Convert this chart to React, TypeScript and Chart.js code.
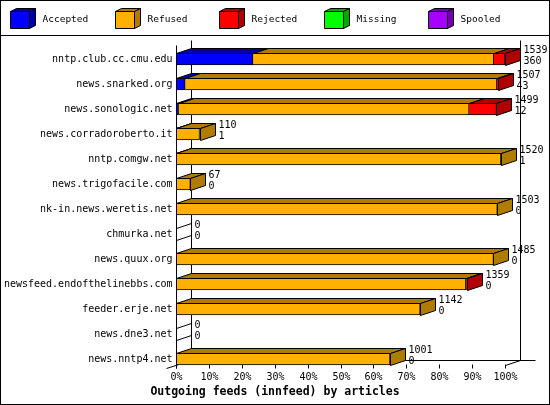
import React, { useEffect, useRef } from "react";
import { Chart, Plugin } from "chart.js/auto";

// feeds, top to bottom
const hosts = [
  "nntp.club.cc.cmu.edu",
  "news.snarked.org",
  "news.sonologic.net",
  "news.corradoroberto.it",
  "nntp.comgw.net",
  "news.trigofacile.com",
  "nk-in.news.weretis.net",
  "chmurka.net",
  "news.quux.org",
  "newsfeed.endofthelinebbs.com",
  "feeder.erje.net",
  "news.dne3.net",
  "news.nntp4.net",
];
const offered = [1539, 1507, 1499, 110, 1520, 67, 1503, 0, 1485, 1359, 1142, 0, 1001];
const accepted = [360, 43, 12, 1, 1, 0, 0, 0, 0, 0, 0, 0, 0];
const refused = [1126, 1458, 1359, 109, 1519, 67, 1503, 0, 1485, 1356, 1142, 0, 1001];
const rejected = [53, 6, 128, 0, 0, 0, 0, 0, 0, 3, 0, 0, 0];
const missing = [0, 0, 0, 0, 0, 0, 0, 0, 0, 0, 0, 0, 0];
const spooled = [0, 0, 0, 0, 0, 0, 0, 0, 0, 0, 0, 0, 0];
const xTicks = [0, 10, 20, 30, 40, 50, 60, 70, 80, 90, 100];

const series = [
  { label: "Accepted", data: accepted, front: "#0000ff", dark: "#0000a8" },
  { label: "Refused", data: refused, front: "#ffb000", dark: "#b07c00" },
  { label: "Rejected", data: rejected, front: "#ff0000", dark: "#b00000" },
  { label: "Missing", data: missing, front: "#00ff00", dark: "#00a800" },
  { label: "Spooled", data: spooled, front: "#a800ff", dark: "#7400b0" },
];

const TITLE = "Outgoing feeds (innfeed) by articles";
const DX = 15;
const DY = 5;
const MONO = "'DejaVu Sans Mono', monospace";

const maxOffered = Math.max(...offered);
const pct = (v: number) => (v / maxOffered) * 100;
const px = (v: number) => Math.round(v) + 0.5;

function poly(ctx: CanvasRenderingContext2D, pts: number[][], fill: string | null) {
  ctx.beginPath();
  pts.forEach(([x, y], i) => (i ? ctx.lineTo(x, y) : ctx.moveTo(x, y)));
  ctx.closePath();
  if (fill) { ctx.fillStyle = fill; ctx.fill(); }
  ctx.stroke();
}

function line(ctx: CanvasRenderingContext2D, x1: number, y1: number, x2: number, y2: number) {
  ctx.beginPath();
  ctx.moveTo(x1, y1);
  ctx.lineTo(x2, y2);
  ctx.stroke();
}

const frame3d: Plugin<"bar"> = {
  id: "frame3d",
  beforeDatasetsDraw(chart) {
    const { ctx, chartArea: a } = chart;
    const L = px(a.left), R = px(a.right);
    const top = 45.5, bot = 365.5;
    ctx.save();
    ctx.strokeStyle = "#000";
    ctx.lineWidth = 1;
    line(ctx, L + DX, top - DY, L + DX, bot - DY);
    line(ctx, R + DX, top - DY, R + DX, bot - DY);
    line(ctx, L + DX, bot - DY, R + 2 * DX, bot - DY);
    line(ctx, L - 10, bot + 3, L + DX, bot - DY);
    line(ctx, R, bot, R + DX, bot - DY);
    ctx.restore();
  },
  afterDatasetsDraw(chart) {
    const { ctx, chartArea: a } = chart;
    const xs = chart.scales.x;
    const ys = chart.scales.y;
    const L = px(a.left);
    const bot = 365.5;
    ctx.save();
    ctx.strokeStyle = "#000";
    ctx.lineWidth = 1;

    hosts.forEach((host, i) => {
      const cy = ys.getPixelForValue(i);
      const yT = px(cy - 6), yB = px(cy + 6);
      let last = -1;
      let endX = L;
      series.forEach((s, d) => {
        if (s.data[i] <= 0) return;
        const el: any = chart.getDatasetMeta(d).data[i];
        const x1 = px(el.base), x2 = px(el.x);
        poly(ctx, [[x1, yT], [x2, yT], [x2 + DX, yT - DY], [x1 + DX, yT - DY]], s.dark);
        last = d;
        endX = x2;
      });
      if (last >= 0) {
        poly(ctx, [[endX, yT], [endX + DX, yT - DY], [endX + DX, yB - DY], [endX, yB]], series[last].dark);
      } else {
        line(ctx, L, yT, L + DX, yT - DY);
        line(ctx, L, yB, L + DX, yB - DY);
      }
      ctx.fillStyle = "#000";
      ctx.font = `10px ${MONO}`;
      ctx.textBaseline = "middle";
      ctx.textAlign = "left";
      ctx.fillText(String(offered[i]), endX + DX + 3, cy - 8.5);
      ctx.fillText(String(accepted[i]), endX + DX + 3, cy + 2);
      ctx.textAlign = "right";
      ctx.fillText(host, L - 4, cy);
    });

    // front left edge and ticks
    line(ctx, L, 45.5, L, bot + 3);
    ctx.textAlign = "center";
    ctx.textBaseline = "middle";
    ctx.font = `10px ${MONO}`;
    xTicks.forEach((t) => {
      const x = px(xs.getPixelForValue(t));
      line(ctx, x, bot - 1, x, bot + 3);
      ctx.fillText(`${t}%`, x, 377);
    });

    ctx.font = `bold 11.5px ${MONO}`;
    ctx.fillText(TITLE, chart.width / 2, 392);

    // legend with little cubes
    ctx.font = `9.5px ${MONO}`;
    ctx.textAlign = "left";
    series.forEach((s, k) => {
      const x0 = Math.round(10 + k * 104.5) + 0.5;
      const y0 = 11.5, w = 19, h = 17, dx = 6, dy = 3;
      poly(ctx, [[x0, y0], [x0 + dx, y0 - dy], [x0 + w + dx, y0 - dy], [x0 + w, y0]], s.dark);
      poly(ctx, [[x0 + w, y0], [x0 + w + dx, y0 - dy], [x0 + w + dx, y0 + h - dy], [x0 + w, y0 + h]], s.dark);
      poly(ctx, [[x0, y0], [x0 + w, y0], [x0 + w, y0 + h], [x0, y0 + h]], s.front);
      ctx.fillStyle = "#000";
      ctx.fillText(s.label, x0 + 32, 20);
    });

    line(ctx, 0, 35.5, chart.width, 35.5);
    ctx.strokeRect(0.5, 0.5, chart.width - 1, chart.height - 1);
    ctx.restore();
  },
};

export default function App() {
  const canvasRef = useRef<HTMLCanvasElement | null>(null);

  useEffect(() => {
    document.body.style.margin = "0";
    const ctx = canvasRef.current?.getContext("2d");
    if (!ctx) return;

    const chart = new Chart(ctx, {
      type: "bar",
      data: {
        labels: hosts,
        datasets: series.map((s) => ({
          label: s.label,
          data: s.data.map(pct),
          backgroundColor: s.front,
          borderColor: "#000",
          borderWidth: 1,
          borderSkipped: "start" as const,
          barThickness: 12,
        })),
      },
      options: {
        indexAxis: "y",
        responsive: false,
        animation: false,
        layout: { padding: { left: 176, right: 45, top: 46.5, bottom: 33.5 } },
        scales: {
          x: { type: "linear", min: 0, max: 100, stacked: true, display: false },
          y: { type: "category", stacked: true, display: false },
        },
        plugins: {
          legend: { display: false },
          tooltip: { enabled: false },
        },
      },
      plugins: [frame3d],
    });

    return () => chart.destroy();
  }, []);

  return (
    <div style={{ width: 550, height: 405, background: "#fff" }}>
      <canvas ref={canvasRef} width={550} height={405} style={{ display: "block" }} />
    </div>
  );
}
